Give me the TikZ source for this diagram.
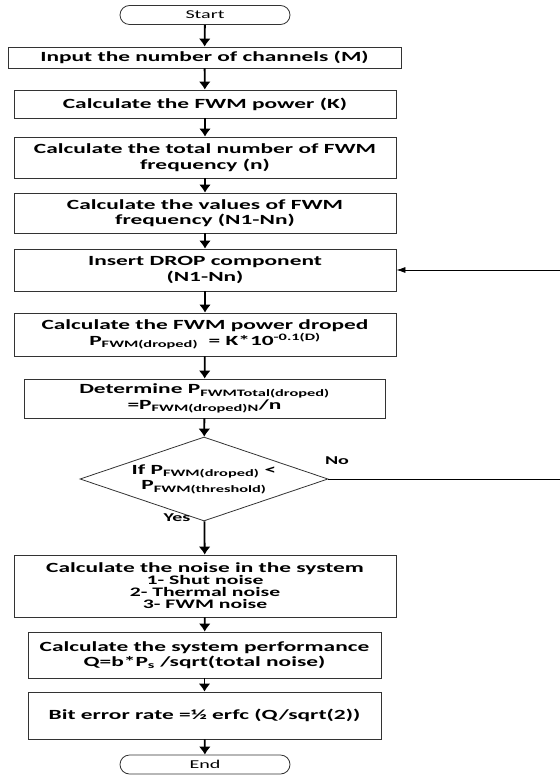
\documentclass[tikz,border=0pt]{standalone}
\usepackage{fontspec}
\setmainfont{Carlito}[FakeStretch=1.67]
\usetikzlibrary{shapes.geometric,arrows.meta}

\begin{document}
\begin{tikzpicture}[x=1pt,y=-1pt,
    box/.style={draw=black!80,line width=0.8pt,rectangle,align=center,inner sep=0pt,
      font=\bfseries\fontsize{14}{15.5}\selectfont},
    term/.style={draw=black!80,line width=0.8pt,rectangle,rounded corners=9.5pt,
      minimum width=170pt,minimum height=19pt,inner sep=0pt,font=\fontsize{12}{14}\selectfont},
    arr/.style={-{Latex[length=8pt,width=12pt]},line width=1.8pt}]
    \useasboundingbox (0,0) rectangle (559,775);

    \node[term] (start) at (205,15) {Start};
    \node[box,minimum width=393pt,minimum height=21pt] (chan) at (204.5,57.5)
        {Input the number of channels (M)};
    \node[box,minimum width=382pt,minimum height=28pt] (power) at (205,104)
        {Calculate the FWM power (K)};
    \node[box,minimum width=382pt,minimum height=41pt] (total) at (205,157.5)
        {Calculate the total number of FWM\\frequency (n)};
    \node[box,minimum width=382pt,minimum height=40pt] (values) at (205,213)
        {Calculate the values of FWM\\frequency (N1-Nn)};
    \node[box,minimum width=382pt,minimum height=42pt] (drop) at (205,270)
        {Insert DROP component\\(N1-Nn)};
    \node[box,minimum width=382pt,minimum height=43pt] (droped) at (205,334.5)
        {Calculate the FWM power droped\\P\textsubscript{FWM(droped)}\ \ = K*10\textsuperscript{-0.1(D)}};
    \node[box,minimum width=361pt,minimum height=39pt] (determ) at (204.5,398.5)
        {Determine P\textsubscript{FWMTotal(droped)}\\=P\textsubscript{FWM(droped)N}/n};
    \node[box,diamond,minimum width=248pt,minimum height=84pt,aspect=2.95] (test) at (204,479)
        {If P\textsubscript{FWM(droped)} <\\P\textsubscript{FWM(threshold)}};
    \node[box,minimum width=382pt,minimum height=62pt,font=\bfseries\fontsize{13}{12}\selectfont] (noise) at (205,586)
        {{\fontsize{14}{12}\selectfont Calculate the noise in the system}\\1- Shut noise\\2- Thermal noise\\3- FWM noise};
    \node[box,minimum width=353pt,minimum height=46pt] (perf) at (204.5,655)
        {Calculate the system performance\\Q=b*P\textsubscript{s} /sqrt(total noise)};
    \node[box,minimum width=353pt,minimum height=47pt] (ber) at (204.5,715.5)
        {Bit error rate =½ erfc (Q/sqrt(2))};
    \node[term] (end) at (205,764.5) {End};

    \node[font=\bfseries\fontsize{12}{14}\selectfont] (no) at (337,461) {No};
    \node[font=\bfseries\fontsize{12}{14}\selectfont] (yes) at (177,518) {Yes};
    \coordinate (back) at (562,479);

    \draw[arr] (start) -- (chan);
    \draw[arr] (chan) -- (power);
    \draw[arr] (power) -- (total);
    \draw[arr] (total) -- (values);
    \draw[arr] (values) -- (drop);
    \draw[arr] (drop) -- (droped);
    \draw[arr] (droped) -- (determ);
    \draw[arr] (determ) -- (test);
    \draw[arr] (test) -- (noise);
    \draw[arr] (noise) -- (perf);
    \draw[arr] (perf) -- (ber);
    \draw[arr] (ber) -- (end);
    \draw[line width=0.8pt] (test.east) -- (back);
    \draw[-{Latex[length=9pt,width=6pt]},line width=0.8pt] (back) |- (drop.east);
\end{tikzpicture}
\end{document}
